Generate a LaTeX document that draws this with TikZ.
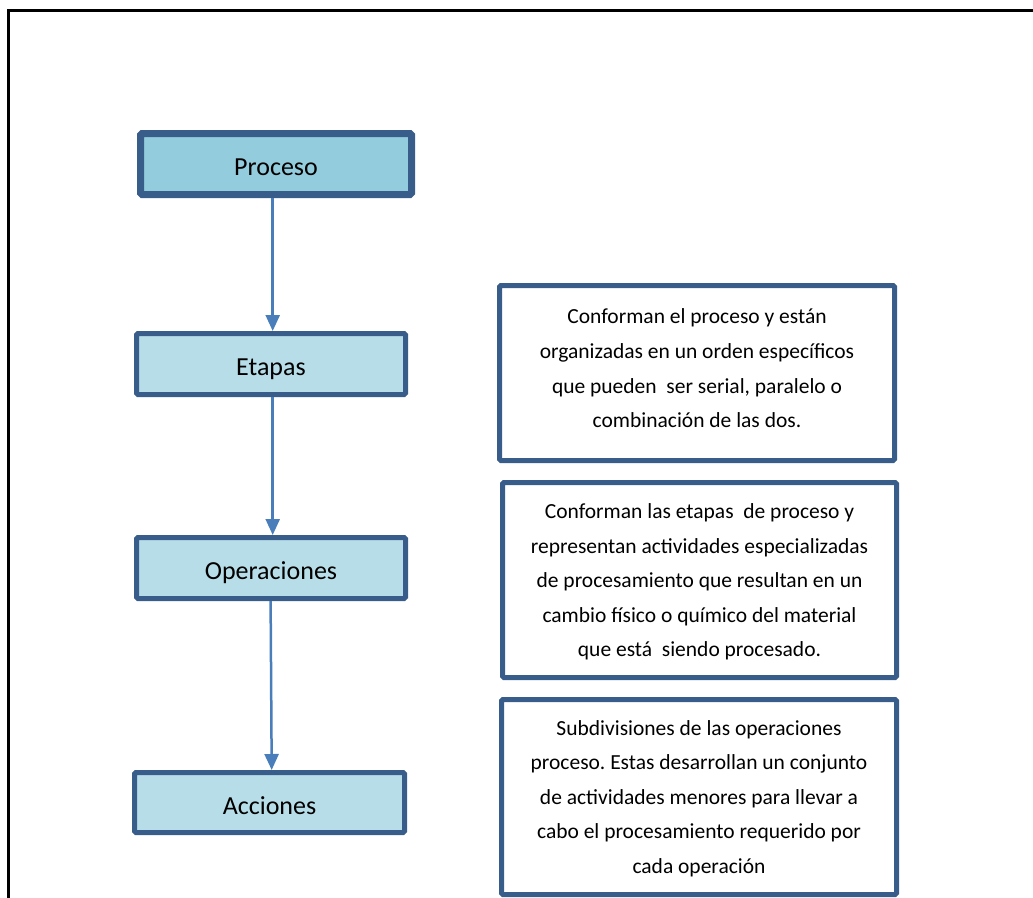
\documentclass[tikz,border=0pt]{standalone}
\usepackage{fontspec}
\setmainfont{Carlito}
\usetikzlibrary{arrows.meta}
\definecolor{edge}{HTML}{385D8A}
\definecolor{fillA}{HTML}{93CDDD}
\definecolor{fillB}{HTML}{B7DEE8}
\definecolor{arrowc}{HTML}{4A7EBB}
\frenchspacing
\begin{document}
\begin{tikzpicture}[x=1pt,y=-1pt,
  level/.style={draw=edge, fill=fillB, line width=5pt, rounded corners=1.5pt,
    inner sep=0pt, text height=28pt, text depth=5pt, font=\fontsize{26}{31}\selectfont},
  topbox/.style={level, fill=fillA, line width=7pt},
  note/.style={draw=edge, line width=5pt, rounded corners=1.5pt, inner sep=0pt},
  notetext/.style={inner sep=0pt, align=center, font=\fontsize{21.5}{34.6}\selectfont},
  link/.style={draw=arrowc, line width=2.5pt, -{Triangle[width=14pt,length=16pt]}}]
\useasboundingbox (0,0) rectangle (1033,897);

% page frame
\draw[line width=3pt] (8.7,905) -- (8.7,10.3) -- (1045,10.3);

% hierarchy boxes
\node[topbox, minimum width=271pt, minimum height=61pt] (proc) at (276,164) {Proceso};
\node[level, minimum width=269pt, minimum height=61pt] (etap) at (271,364) {Etapas};
\node[level, minimum width=269pt, minimum height=61pt] (oper) at (271,568) {Operaciones};
\node[level, minimum width=270pt, minimum height=60pt] (acc) at (269.5,802.5) {Acciones};

% description boxes and their texts
\node[note, minimum width=395pt, minimum height=175pt] (d1) at (697,373) {};
\node[notetext] (t1) at (697,368.5)
  {Conforman el proceso y están\\organizadas en un orden específicos\\que pueden~ ser serial, paralelo o\\combinación de las dos.};
\node[note, minimum width=394pt, minimum height=195pt] (d2) at (699.5,580) {};
\node[notetext] (t2) at (699.5,582)
  {Conforman las etapas~ de proceso y\\representan actividades especializadas\\de procesamiento que resultan en un\\cambio físico o químico del material\\que está~ siendo procesado.};
\node[note, minimum width=395pt, minimum height=195pt] (d3) at (699,797) {};
\node[notetext] (t3) at (699,798.5)
  {Subdivisiones de las operaciones\\proceso. Estas desarrollan un conjunto\\de actividades menores para llevar a\\cabo el procesamiento requerido por\\cada operación};

% connectors
\coordinate (xa) at (272.7,0);
\coordinate (xb) at (270.6,0);
\coordinate (xc) at (271.7,0);
\draw[link] (proc.south -| xa) -- (etap.north -| xa);
\draw[link] (etap.south -| xa) -- (oper.north -| xa);
\draw[link] (oper.south -| xb) -- (acc.north -| xc);
\end{tikzpicture}
\end{document}
